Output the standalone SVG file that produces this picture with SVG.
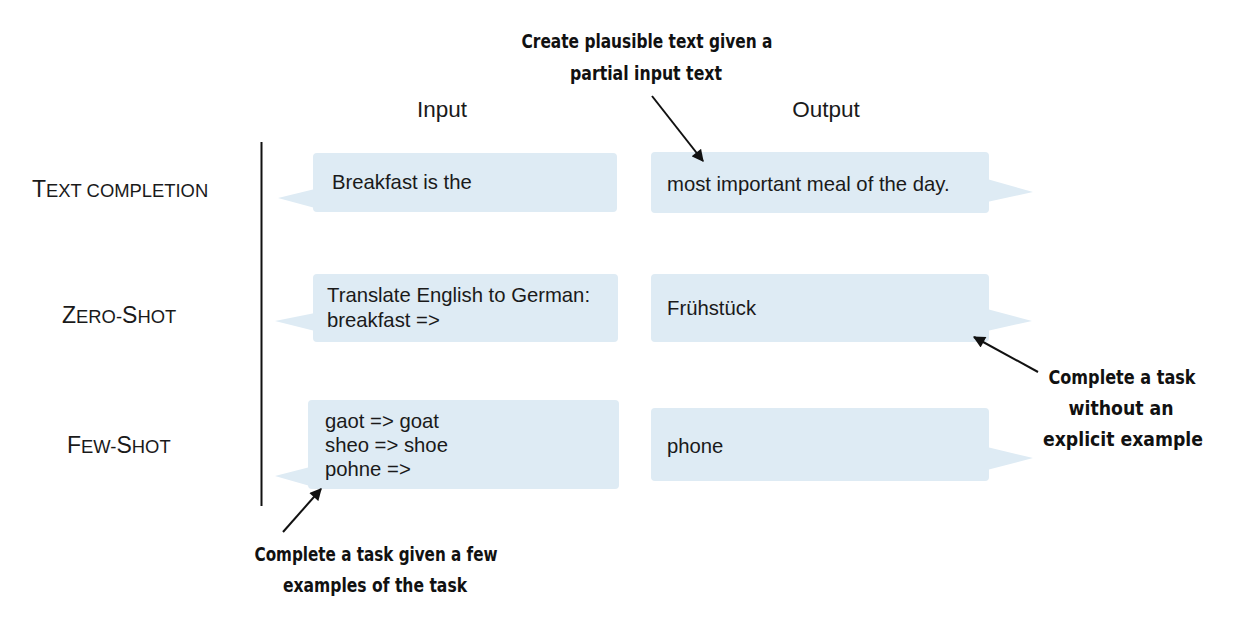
<svg xmlns="http://www.w3.org/2000/svg" width="1240" height="622" viewBox="0 0 1240 622">
<defs>
<style>
.bub{fill:#deebf4}
.t{font-family:"Liberation Sans",Arial,Helvetica,sans-serif;font-size:20.3px;fill:#1a1a1a}
.hdr{font-family:"Liberation Sans",Arial,Helvetica,sans-serif;font-size:22.5px;fill:#1a1a1a;text-anchor:middle}
.row{font-family:"Liberation Sans",Arial,Helvetica,sans-serif;fill:#1a1a1a}
.big{font-size:23px}
.sm{font-size:18.4px}
.ann{font-family:"Liberation Sans Narrow","DejaVu Sans Condensed","Liberation Sans",sans-serif;font-weight:bold;font-size:20px;fill:#111;text-anchor:middle}
.arr{stroke:#111;stroke-width:2;fill:none;marker-end:url(#ah)}
</style>
<marker id="ah" viewBox="0 0 10 10" refX="9" refY="5" markerWidth="6.5" markerHeight="6" orient="auto" markerUnits="strokeWidth">
<path d="M0,0 L10,5 L0,10 z" fill="#111"/>
</marker>
</defs>
<rect width="1240" height="622" fill="#fff"/>

<g id="headers">
<text class="hdr" x="442" y="117">Input</text>
<text class="hdr" x="826" y="117">Output</text>
</g>

<g id="row-labels">
<text class="row" x="32" y="197"><tspan class="big">T</tspan><tspan class="sm">EXT COMPLETION</tspan></text>
<text class="row" x="62" y="323"><tspan class="big">Z</tspan><tspan class="sm">ERO-</tspan><tspan class="big">S</tspan><tspan class="sm">HOT</tspan></text>
<text class="row" x="67" y="453"><tspan class="big">F</tspan><tspan class="sm">EW-</tspan><tspan class="big">S</tspan><tspan class="sm">HOT</tspan></text>
</g>

<g id="divider">
<line x1="261.5" y1="142" x2="261.5" y2="506" stroke="#111" stroke-width="2"/>
</g>

<g id="in-text">
<rect class="bub" x="313" y="153" width="304" height="59" rx="4"/>
<polygon class="bub" points="315,189 278,198 315,208"/>
<text class="t" x="332" y="189">Breakfast is the</text>
</g>

<g id="out-text">
<rect class="bub" x="651" y="152" width="338" height="61" rx="4"/>
<polygon class="bub" points="987,179 1033,192 987,202"/>
<text class="t" x="667" y="191">most important meal of the day.</text>
</g>

<g id="in-zero">
<rect class="bub" x="313" y="274" width="305" height="68" rx="4"/>
<polygon class="bub" points="315,313 275,321 315,331"/>
<text class="t" x="327" y="302">Translate English to German:</text>
<text class="t" x="327" y="327">breakfast =&gt;</text>
</g>

<g id="out-zero">
<rect class="bub" x="651" y="274" width="338" height="68" rx="4"/>
<polygon class="bub" points="987,309 1032,321 987,331"/>
<text class="t" x="667" y="315">Frühstück</text>
</g>

<g id="in-few">
<rect class="bub" x="308" y="400" width="311" height="89" rx="4"/>
<polygon class="bub" points="310,467 275,476 310,486"/>
<text class="t" x="325" y="428">gaot =&gt; goat</text>
<text class="t" x="325" y="452">sheo =&gt; shoe</text>
<text class="t" x="325" y="476">pohne =&gt;</text>
</g>

<g id="out-few">
<rect class="bub" x="651" y="408" width="338" height="73" rx="4"/>
<polygon class="bub" points="987,447 1033,458 987,470"/>
<text class="t" x="667" y="453">phone</text>
</g>

<g id="note-top">
<text class="ann" x="647" y="48" textLength="251" lengthAdjust="spacingAndGlyphs">Create plausible text given a</text>
<text class="ann" x="646" y="80" textLength="152" lengthAdjust="spacingAndGlyphs">partial input text</text>
</g>

<g id="note-right">
<text class="ann" x="1122" y="384" textLength="147" lengthAdjust="spacingAndGlyphs">Complete a task</text>
<text class="ann" x="1121" y="415" textLength="105" lengthAdjust="spacingAndGlyphs">without an</text>
<text class="ann" x="1123" y="446" textLength="160" lengthAdjust="spacingAndGlyphs">explicit example</text>
</g>

<g id="note-bottom">
<text class="ann" x="376" y="561" textLength="243" lengthAdjust="spacingAndGlyphs">Complete a task given a few</text>
<text class="ann" x="375" y="592" textLength="184" lengthAdjust="spacingAndGlyphs">examples of the task</text>
</g>

<g id="connectors">
<line class="arr" x1="652" y1="96" x2="703" y2="161"/>
<line class="arr" x1="1038" y1="372" x2="974" y2="337"/>
<line class="arr" x1="283" y1="532" x2="321" y2="489"/>
</g>
</svg>
